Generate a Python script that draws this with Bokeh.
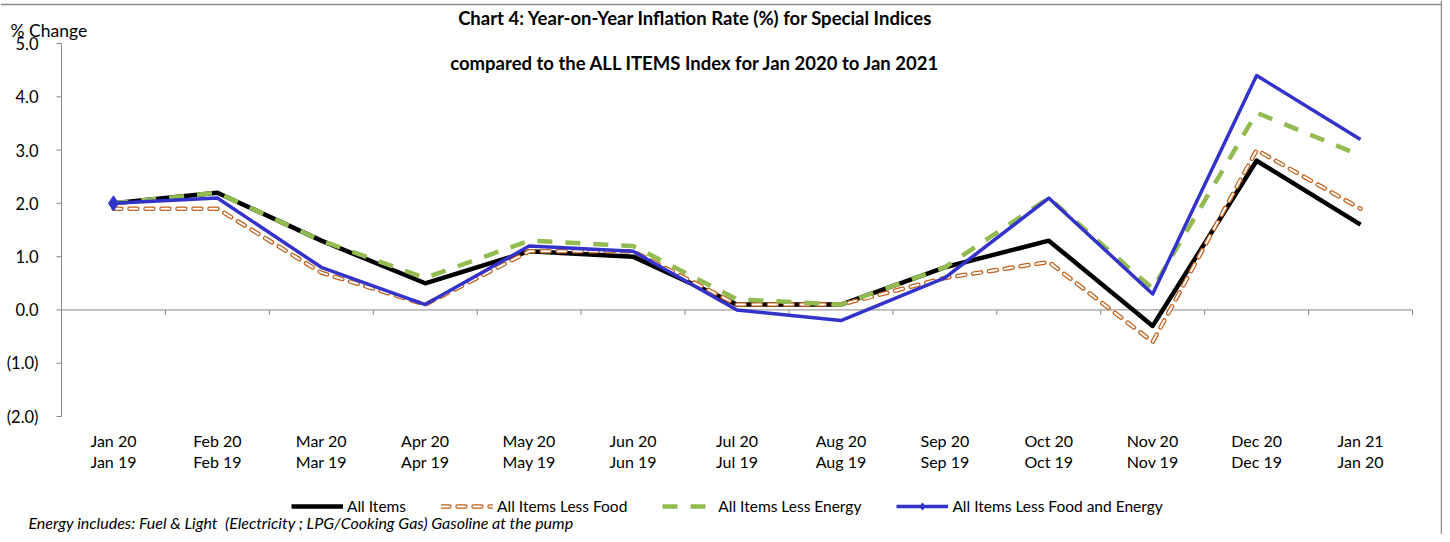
import math
from bokeh.plotting import figure
from bokeh.models import Range1d, Label, Legend, LegendItem, ColumnDataSource, Span
from bokeh.core.properties import value
from bokeh.embed import file_html
from bokeh.resources import INLINE

# ---- data ----
months_top = ["Jan 20", "Feb 20", "Mar 20", "Apr 20", "May 20", "Jun 20", "Jul 20",
              "Aug 20", "Sep 20", "Oct 20", "Nov 20", "Dec 20", "Jan 21"]
months_bottom = ["Jan 19", "Feb 19", "Mar 19", "Apr 19", "May 19", "Jun 19", "Jul 19",
                 "Aug 19", "Sep 19", "Oct 19", "Nov 19", "Dec 19", "Jan 20"]
all_items = [2.0, 2.2, 1.3, 0.5, 1.1, 1.0, 0.1, 0.1, 0.8, 1.3, -0.3, 2.8, 1.6]
less_food = [1.9, 1.9, 0.7, 0.1, 1.1, 1.1, 0.1, 0.1, 0.6, 0.9, -0.6, 3.0, 1.9]
less_energy = [2.0, 2.2, 1.3, 0.6, 1.3, 1.2, 0.2, 0.1, 0.8, 2.1, 0.4, 3.7, 2.9]
less_food_energy = [2.0, 2.1, 0.8, 0.1, 1.2, 1.1, 0.0, -0.2, 0.6, 2.1, 0.3, 4.4, 3.2]
y_ticks = [-2, -1, 0, 1, 2, 3, 4, 5]
y_tick_labels = ["(2.0)", "(1.0)", "0.0", "1.0", "2.0", "3.0", "4.0", "5.0"]

title1 = "Chart 4: Year-on-Year Inflation Rate (%) for Special Indices"
title2 = "compared to the ALL ITEMS Index for Jan 2020 to Jan 2021"
y_title = "% Change"
footnote = "Energy includes: Fuel & Light\u00a0 (Electricity ; LPG/Cooking Gas) Gasoline at the pump"

FONT = "Lato"
GRAY = "#878787"

n = len(months_top)
xs = [i + 0.5 for i in range(n)]
src = ColumnDataSource(dict(x=xs, a=all_items, f=less_food, e=less_energy, fe=less_food_energy))

# ---- page geometry (pixels) ----
W, H = 1442, 534
AX_LEFT, AX_RIGHT = 61, 1412        # plotting area horizontally
AX_TOP, AX_BOTTOM = 43, 416         # y axis from max tick to min tick
ppx = (AX_RIGHT - AX_LEFT) / n
ppy = (AX_BOTTOM - AX_TOP) / (y_ticks[-1] - y_ticks[0])


def px(pix):
    return (pix - AX_LEFT) / ppx


def py(pix):
    return y_ticks[-1] - (pix - AX_TOP) / ppy


p = figure(width=W, height=H, output_backend="svg", toolbar_location=None,
           x_range=Range1d(px(0), px(W)), y_range=Range1d(py(H), py(0)),
           x_axis_location=None, y_axis_location=None, min_border=0)
p.outline_line_color = None
p.xgrid.visible = False
p.ygrid.visible = False
p.background_fill_color = "white"
p.border_fill_color = "white"

# chart border (top and right)
p.add_layout(Span(location=py(4), dimension="width", line_color="#8c8c8c", line_width=1.5))
p.add_layout(Span(location=px(1441), dimension="height", line_color="#8c8c8c", line_width=1.5))

# y axis: line, ticks, labels
p.segment(x0=[0], y0=[y_ticks[0]], x1=[0], y1=[y_ticks[-1]], line_color=GRAY, line_width=1)
p.ray(x=[0] * len(y_ticks), y=y_ticks, length=5, length_units="screen", angle=math.pi,
      line_color=GRAY, line_width=1)
p.text(x=[0] * len(y_ticks), y=y_ticks, text=y_tick_labels, x_offset=-23, text_align="right",
       text_baseline="middle", text_font=value(FONT), text_font_size="16.5px", text_color="black")

# zero line with tick marks between categories
p.segment(x0=[0], y0=[0], x1=[n], y1=[0], line_color=GRAY, line_width=1)
p.ray(x=list(range(n + 1)), y=[0] * (n + 1), length=5, length_units="screen",
      angle=-math.pi / 2, line_color=GRAY, line_width=1)

# category labels (two lines)
p.text(x=xs, y=[y_ticks[0]] * n, text=months_top, y_offset=24, text_align="center",
       text_baseline="middle", text_font=value(FONT), text_font_size="16px", text_color="black")
p.text(x=xs, y=[y_ticks[0]] * n, text=months_bottom, y_offset=45, text_align="center",
       text_baseline="middle", text_font=value(FONT), text_font_size="16px", text_color="black")

# series
r_a = p.line("x", "a", source=src, line_color="black", line_width=4.5, line_join="round")
r_f1 = p.line("x", "f", source=src, line_color="#C0601A", line_width=4.5, line_dash="8 8",
              line_cap="round", line_join="round")
r_f2 = p.line("x", "f", source=src, line_color="white", line_width=2, line_dash="8 8",
              line_cap="round", line_join="round")
r_e = p.line("x", "e", source=src, line_color="#92BB50", line_width=4.5, line_dash="15 13",
             line_join="round")
r_fe = p.line("x", "fe", source=src, line_color="#3333CC", line_width=3.5, line_join="round")
first = ColumnDataSource(dict(x=xs[:1], y=less_food_energy[:1]))
r_d = p.scatter("x", "y", source=first, marker="diamond", size=15, fill_color="#3333CC",
                line_color="#3333CC")

legend = Legend(items=[LegendItem(label="All Items", renderers=[r_a]),
                       LegendItem(label="All Items Less Food", renderers=[r_f1, r_f2]),
                       LegendItem(label="All Items Less Energy", renderers=[r_e]),
                       LegendItem(label="All Items Less Food and Energy", renderers=[r_fe, r_d])],
                orientation="horizontal", location=(291, 19),
                glyph_width=52, glyph_height=18, label_standoff=4, spacing=35,
                padding=0, margin=0, border_line_color=None, background_fill_alpha=0,
                label_text_font=FONT, label_text_font_size="15.5px", label_text_color="black")
p.add_layout(legend, "center")

# texts
p.add_layout(Label(x=px(695), y=py(17), text=title1, text_font=FONT, text_font_style="bold",
                   text_font_size="18.5px", text_align="center", text_baseline="middle",
                   text_color="black"))
p.add_layout(Label(x=px(695), y=py(62), text=title2, text_font=FONT, text_font_style="bold",
                   text_font_size="18.5px", text_align="center", text_baseline="middle",
                   text_color="black"))
p.add_layout(Label(x=px(10), y=py(30), text=y_title, text_font=FONT,
                   text_font_size="17.5px", text_align="left", text_baseline="middle",
                   text_color="black"))
p.add_layout(Label(x=px(28), y=py(522), text=footnote, text_font=FONT, text_font_style="italic",
                   text_font_size="16px", text_align="left", text_baseline="middle",
                   text_color="black"))

open("out.html", "w").write(file_html(p, INLINE))
